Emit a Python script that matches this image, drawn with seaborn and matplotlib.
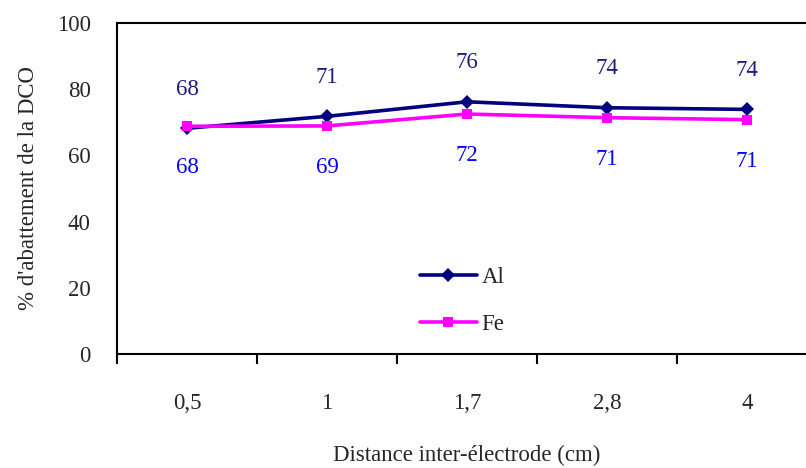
import matplotlib
matplotlib.use("Agg")
import matplotlib.pyplot as plt
import seaborn as sns
import pandas as pd
import numpy as np

categories = ["0,5", "1", "1,7", "2,8", "4"]
al_values = [68.2, 71.8, 76.2, 74.4, 73.9]
fe_values = [68.8, 68.9, 72.5, 71.4, 70.8]
al_labels = ["68", "71", "76", "74", "74"]
fe_labels = ["68", "69", "72", "71", "71"]
y_ticks = [0, 20, 40, 60, 80, 100]

df = pd.DataFrame({
    "dist": categories * 2,
    "val": al_values + fe_values,
    "metal": ["Al"] * len(categories) + ["Fe"] * len(categories),
})

sns.set_theme(style="white")
plt.rcParams["font.family"] = ["Liberation Serif", "DejaVu Serif"]
FS = 16.5

fig = plt.figure(figsize=(8.06, 4.68), dpi=100)
ax = fig.add_axes([117 / 806, 1 - 354 / 468, 700 / 806, (354 - 23) / 468])

palette = {"Al": "#000080", "Fe": "#FF00FF"}
sns.lineplot(data=df, x="dist", y="val", hue="metal", style="metal",
             markers={"Al": "D", "Fe": "s"}, dashes=False, palette=palette,
             sort=False, linewidth=2.6, markersize=7, markeredgewidth=0,
             ax=ax)

ax.set_xlim(-0.5, len(categories) - 0.5)
ax.set_ylim(0, 100)
ax.set_yticks(y_ticks)
ax.set_yticklabels([str(v) for v in y_ticks], fontsize=FS)
ax.tick_params(axis="y", length=0, pad=19)

ax.set_xticks(range(len(categories)))
ax.set_xticklabels(categories, fontsize=FS)
ax.set_xticks(np.arange(-0.5, len(categories) + 0.5, 1), minor=True)
ax.tick_params(axis="x", which="major", length=0, pad=28)
ax.tick_params(axis="x", which="minor", length=7, width=1.5, direction="out",
               color="black", bottom=True)

for s in ax.spines.values():
    s.set_color("black")
    s.set_linewidth(1.5)

for i, (v, t) in enumerate(zip(al_values, al_labels)):
    ax.annotate(t, (i, v), xytext=(0, 28), textcoords="offset points",
                ha="center", va="center", fontsize=FS, color="#1a1a80")
for i, (v, t) in enumerate(zip(fe_values, fe_labels)):
    ax.annotate(t, (i, v), xytext=(0, -30), textcoords="offset points",
                ha="center", va="center", fontsize=FS, color="#0000FF")

ax.set_xlabel("Distance inter-électrode (cm)", fontsize=FS, labelpad=22)
ax.set_ylabel("% d'abattement de la DCO", fontsize=FS, labelpad=13)

leg = ax.legend(title=None, frameon=False, fontsize=FS, loc="center",
                handlelength=2.5, handletextpad=0.2, labelspacing=1.1)
leg.set_bbox_to_anchor((462 / 806, 1 - 301 / 468), transform=fig.transFigure)

fig.savefig("out.png", dpi=100)
